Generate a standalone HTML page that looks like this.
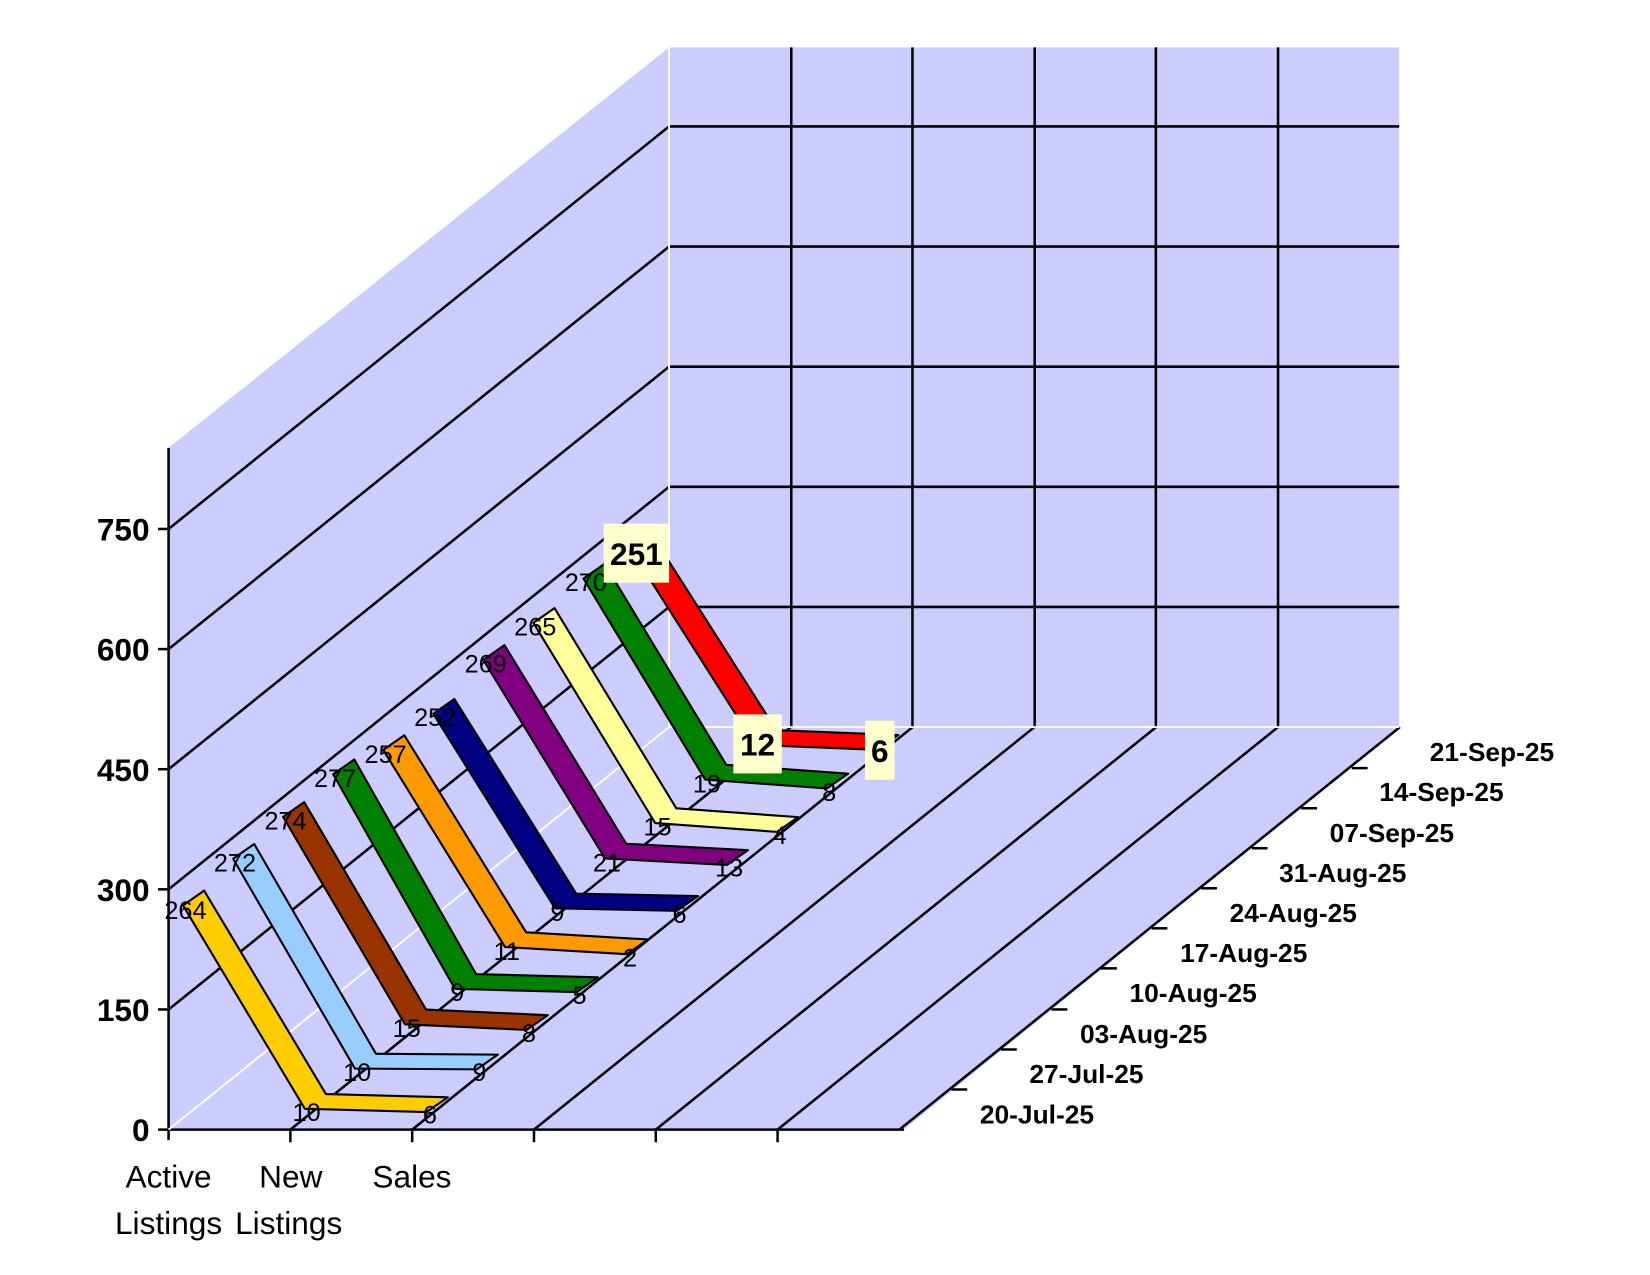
<!DOCTYPE html>
<html><head><meta charset="utf-8"><style>
html,body{margin:0;padding:0;background:#fff;}
svg{display:block;}
text{font-family:"Liberation Sans",Arial,sans-serif;}
.v{font-size:24px;fill:#000;text-anchor:middle;}
.yl{font-size:30px;font-weight:bold;text-anchor:end;}
.dl{font-size:25px;font-weight:bold;}
.cl{font-size:30px;text-anchor:middle;}
</style></head><body>
<svg id="s" width="1650" height="1275" viewBox="0 0 1566 1210" preserveAspectRatio="none" xmlns="http://www.w3.org/2000/svg">
<rect width="1566" height="1210" fill="#fff"/>
<polygon points="160,425 635,45 635,690 160,1072" fill="#CCCCFF"/>
<rect x="635" y="45" width="693" height="645" fill="#CCCCFF"/>
<polygon points="160,1072 635,690 1328,690 858,1072" fill="#CCCCFF"/>
<g stroke="#000" stroke-width="2.4">
<line x1="160" y1="958" x2="635" y2="576"/>
<line x1="160" y1="844" x2="635" y2="462"/>
<line x1="160" y1="730" x2="635" y2="348"/>
<line x1="160" y1="616" x2="635" y2="234"/>
<line x1="160" y1="502" x2="635" y2="120"/>
<line x1="635" y1="576" x2="1328" y2="576"/>
<line x1="635" y1="462" x2="1328" y2="462"/>
<line x1="635" y1="348" x2="1328" y2="348"/>
<line x1="635" y1="234" x2="1328" y2="234"/>
<line x1="635" y1="120" x2="1328" y2="120"/>
<line x1="751" y1="45" x2="751" y2="690"/>
<line x1="866" y1="45" x2="866" y2="690"/>
<line x1="982" y1="45" x2="982" y2="690"/>
<line x1="1097" y1="45" x2="1097" y2="690"/>
<line x1="1213" y1="45" x2="1213" y2="690"/>
<line x1="275.6" y1="1072" x2="750.6" y2="690"/>
<line x1="391.2" y1="1072" x2="866.2" y2="690"/>
<line x1="506.8" y1="1072" x2="981.8" y2="690"/>
<line x1="622.4" y1="1072" x2="1097.4" y2="690"/>
<line x1="738" y1="1072" x2="1213" y2="690"/>
<line x1="853.6" y1="1072" x2="1328.6" y2="690"/>
<line x1="160" y1="425" x2="160" y2="1082"/>
<line x1="150" y1="1072" x2="858" y2="1072"/>
<line x1="150" y1="958" x2="160" y2="958"/>
<line x1="150" y1="844" x2="160" y2="844"/>
<line x1="150" y1="730" x2="160" y2="730"/>
<line x1="150" y1="616" x2="160" y2="616"/>
<line x1="150" y1="502" x2="160" y2="502"/>
<line x1="275.6" y1="1072" x2="275.6" y2="1084"/>
<line x1="391.2" y1="1072" x2="391.2" y2="1084"/>
<line x1="506.8" y1="1072" x2="506.8" y2="1084"/>
<line x1="622.4" y1="1072" x2="622.4" y2="1084"/>
<line x1="738" y1="1072" x2="738" y2="1084"/>
<line x1="903" y1="1034" x2="918" y2="1034"/>
<line x1="950" y1="996" x2="965" y2="996"/>
<line x1="998" y1="958" x2="1013" y2="958"/>
<line x1="1045" y1="919" x2="1060" y2="919"/>
<line x1="1093" y1="881" x2="1108" y2="881"/>
<line x1="1140" y1="843" x2="1155" y2="843"/>
<line x1="1188" y1="805" x2="1203" y2="805"/>
<line x1="1235" y1="767" x2="1250" y2="767"/>
<line x1="1283" y1="729" x2="1298" y2="729"/>
</g>
<g stroke="#fff" stroke-width="1.8">
<line x1="160" y1="1072" x2="635" y2="690"/>
<line x1="635" y1="690" x2="1328" y2="690"/>
<line x1="635" y1="45" x2="635" y2="690"/>
</g>
<g id="rib"></g>
<g class="v">
<text x="176" y="872">264</text><text x="291" y="1064">10</text><text x="408" y="1066">6</text>
<text x="223" y="827">272</text><text x="339" y="1026">10</text><text x="455" y="1026">9</text>
<text x="271" y="787">274</text><text x="386" y="984">15</text><text x="502" y="989">8</text>
<text x="318" y="747">277</text><text x="434" y="950">9</text><text x="550" y="953">5</text>
<text x="366" y="724">257</text><text x="481" y="911">11</text><text x="598" y="917">2</text>
<text x="413" y="689">252</text><text x="529" y="874">9</text><text x="645" y="876">6</text>
<text x="461" y="638">269</text><text x="576" y="827">21</text><text x="692" y="832">13</text>
<text x="508" y="603">265</text><text x="624" y="793">15</text><text x="740" y="801">4</text>
<text x="556" y="561">270</text><text x="671" y="752">19</text><text x="787" y="760">8</text>
</g>
<rect x="573" y="497" width="62" height="56" fill="#FFFFCC"/>
<rect x="696" y="678" width="46" height="56" fill="#FFFFCC"/>
<rect x="821" y="684" width="28" height="56" fill="#FFFFCC"/>
<g style="font-size:30px;font-weight:bold;text-anchor:middle">
<text x="604" y="536">251</text><text x="719" y="717">12</text><text x="835" y="723">6</text>
</g>
<g class="yl">
<text x="142" y="1083">0</text><text x="142" y="969">150</text><text x="142" y="855">300</text>
<text x="142" y="741">450</text><text x="142" y="627">600</text><text x="142" y="513">750</text>
</g>
<g class="cl">
<text x="160" y="1127">Active</text><text x="160" y="1171">Listings</text>
<text x="276" y="1127">New</text><text x="274" y="1171">Listings</text>
<text x="391" y="1127">Sales</text>
</g>
<g class="dl">
<text x="930" y="1066">20-Jul-25</text>
<text x="977" y="1028">27-Jul-25</text>
<text x="1025" y="990">03-Aug-25</text>
<text x="1072" y="951">10-Aug-25</text>
<text x="1120" y="913">17-Aug-25</text>
<text x="1167" y="875">24-Aug-25</text>
<text x="1214" y="837">31-Aug-25</text>
<text x="1262" y="799">07-Sep-25</text>
<text x="1309" y="760">14-Sep-25</text>
<text x="1357" y="722">21-Sep-25</text>
</g>
</svg>
<script>
(function(){
var cols=["#FFCC00","#99CCFF","#993300","#008000","#FF9900","#000080","#800080","#FFFF99","#008000","#FF0000"];
var A=[264,272,274,277,257,252,269,265,270,251],N=[10,10,15,9,11,9,21,15,19,12],S=[6,9,8,5,2,6,13,4,8,6];
var g=document.getElementById("rib"),ns="http://www.w3.org/2000/svg",wx=10,wy=-7;
for(var i=9;i>=0;i--){
var ox=160+47.5*(i+0.5),oy=1072-38.2*(i+0.5);
var P=[[ox,oy-0.76*A[i]],[ox+115.6,oy-0.76*N[i]],[ox+231.2,oy-0.76*S[i]]];
var pts=[];
P.forEach(function(p){pts.push((p[0]-wx)+","+(p[1]-wy));});
P.slice().reverse().forEach(function(p){pts.push((p[0]+wx)+","+(p[1]+wy));});
var pg=document.createElementNS(ns,"polygon");
pg.setAttribute("points",pts.join(" "));
pg.setAttribute("fill",cols[i]);pg.setAttribute("stroke","#000");pg.setAttribute("stroke-width","2");pg.setAttribute("stroke-linejoin","round");
g.appendChild(pg);
}
})();
</script>
</body></html>
